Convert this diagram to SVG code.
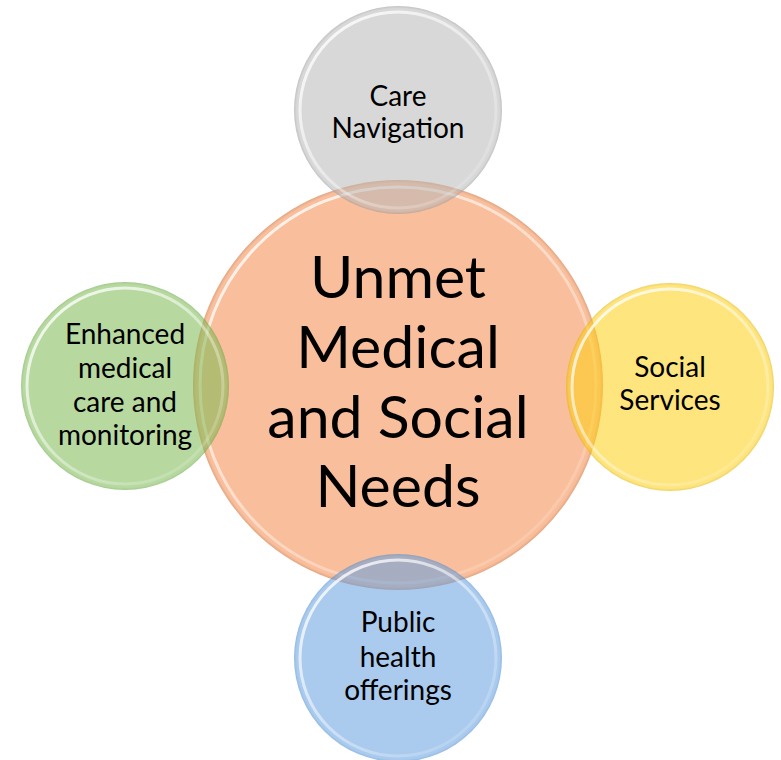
<svg xmlns="http://www.w3.org/2000/svg" width="781" height="760" viewBox="0 0 781 760">
<style>
  text { font-family: Lato, "Open Sans", sans-serif; fill: #000; text-anchor: middle; }
  .big { font-size: 59px; }
  .sm { font-size: 28px; }
  .hl { fill: none; stroke: url(#gHL); stroke-width: 3; }
</style>
<defs>
  <linearGradient id="gHL" x1="0.15" y1="0.1" x2="0.85" y2="0.9">
    <stop offset="0" stop-color="#ffffff" stop-opacity="0.8"/>
    <stop offset="0.5" stop-color="#ffffff" stop-opacity="0.45"/>
    <stop offset="1" stop-color="#ffffff" stop-opacity="0.15"/>
  </linearGradient>
  <radialGradient id="gOrange">
    <stop offset="0" stop-color="#f9be9b"/>
    <stop offset="0.985" stop-color="#f9be9b"/>
    <stop offset="1" stop-color="#e2a682"/>
  </radialGradient>
  <radialGradient id="gGrey">
    <stop offset="0" stop-color="#b8b8b8" stop-opacity="0.55"/>
    <stop offset="0.975" stop-color="#b8b8b8" stop-opacity="0.55"/>
    <stop offset="1" stop-color="#999999" stop-opacity="0.6"/>
  </radialGradient>
  <radialGradient id="gGreen">
    <stop offset="0" stop-color="#7cba52" stop-opacity="0.55"/>
    <stop offset="0.975" stop-color="#7cba52" stop-opacity="0.55"/>
    <stop offset="1" stop-color="#66a542" stop-opacity="0.6"/>
  </radialGradient>
  <radialGradient id="gYellow">
    <stop offset="0" stop-color="#fdcf14" stop-opacity="0.55"/>
    <stop offset="0.975" stop-color="#fdcf14" stop-opacity="0.55"/>
    <stop offset="1" stop-color="#e2b400" stop-opacity="0.6"/>
  </radialGradient>
  <radialGradient id="gBlue">
    <stop offset="0" stop-color="#64a0e0" stop-opacity="0.55"/>
    <stop offset="0.975" stop-color="#64a0e0" stop-opacity="0.55"/>
    <stop offset="1" stop-color="#4c8bcf" stop-opacity="0.6"/>
  </radialGradient>
</defs>
<rect width="781" height="760" fill="#ffffff"/>

<g id="center">
  <circle cx="398" cy="385" r="205" fill="url(#gOrange)"/>
  <circle class="hl" cx="398" cy="385" r="198"/>
  <text class="big" x="398" y="298">Unmet</text>
  <text class="big" x="398" y="368">Medical</text>
  <text class="big" x="398" y="438">and Social</text>
  <text class="big" x="398" y="507">Needs</text>
</g>

<g id="care-navigation">
  <circle cx="398" cy="110" r="104" fill="url(#gGrey)"/>
  <circle class="hl" cx="398" cy="110" r="98"/>
  <text class="sm" x="398" y="106">Care</text>
  <text class="sm" x="398" y="138">Navigation</text>
</g>

<g id="enhanced-medical-care">
  <circle cx="125" cy="386" r="104" fill="url(#gGreen)"/>
  <circle class="hl" cx="125" cy="386" r="98"/>
  <text class="sm" x="125" y="344">Enhanced</text>
  <text class="sm" x="125" y="378">medical</text>
  <text class="sm" x="125" y="412">care and</text>
  <text class="sm" x="125" y="445">monitoring</text>
</g>

<g id="social-services">
  <circle cx="670" cy="387" r="104" fill="url(#gYellow)"/>
  <circle class="hl" cx="670" cy="387" r="98"/>
  <text class="sm" x="670" y="377">Social</text>
  <text class="sm" x="670" y="410">Services</text>
</g>

<g id="public-health">
  <circle cx="398" cy="658" r="104" fill="url(#gBlue)"/>
  <circle class="hl" cx="398" cy="658" r="98"/>
  <text class="sm" x="398" y="632">Public</text>
  <text class="sm" x="398" y="667">health</text>
  <text class="sm" x="398" y="700">offerings</text>
</g>
</svg>
